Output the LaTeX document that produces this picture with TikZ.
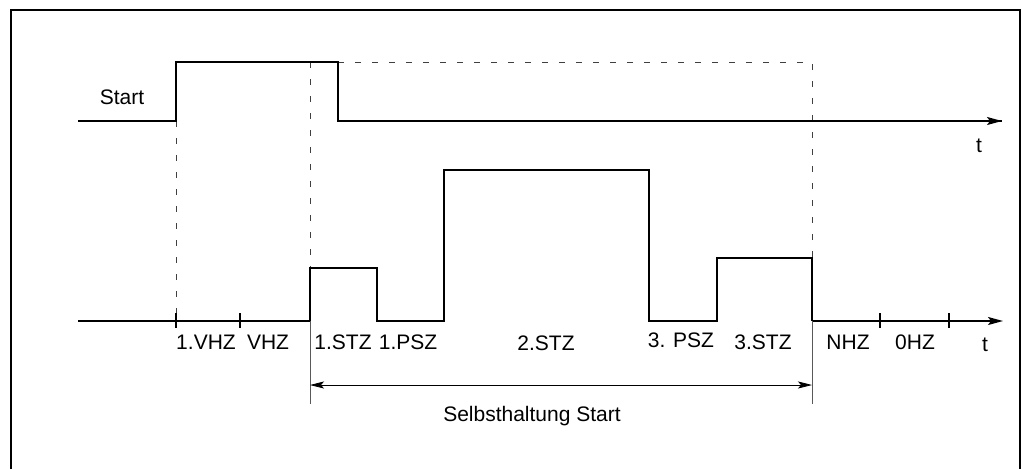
\documentclass[tikz,border=0pt]{standalone}
\usepackage{fontspec}
\setmainfont{Liberation Sans}
\usetikzlibrary{arrows.meta}
\begin{document}
\begin{tikzpicture}[x=1pt,y=-1pt,
  sig/.style={line width=1.6pt, line join=miter},
  dsh/.style={line width=0.9pt, draw=black!75, dash pattern=on 6pt off 11pt},
  thin/.style={line width=0.9pt, draw=black!65},
  lbl/.style={font=\fontsize{21}{23}\selectfont, inner sep=0pt},
  axarrow/.style={-{Stealth[length=15pt,width=8pt,inset=3pt]}},
  dimarrow/.style={{Stealth[length=14pt,width=7pt,inset=3pt]}-{Stealth[length=14pt,width=7pt,inset=3pt]}, line width=0.8pt}
]
\useasboundingbox (0,0) rectangle (1022,469);
% frame
\draw[line width=2pt] (11,469) -- (11,10) -- (1020,10) -- (1020,469);

% top signal coordinates
\coordinate (a0) at (78,121);
\coordinate (a1) at (176,121);
\coordinate (a2) at (176,62);
\coordinate (a3) at (338,62);
\coordinate (a4) at (338,121);
\coordinate (aend) at (1002,121);

% bottom signal coordinates
\coordinate (b0) at (78,321);
\coordinate (b1) at (310,321);
\coordinate (b2) at (310,268);
\coordinate (b3) at (377,268);
\coordinate (b4) at (377,321);
\coordinate (b5) at (444,321);
\coordinate (b6) at (444,170);
\coordinate (b7) at (649,170);
\coordinate (b8) at (649,321);
\coordinate (b9) at (717,321);
\coordinate (b10) at (717,258);
\coordinate (b11) at (812,258);
\coordinate (b12) at (812,321);
\coordinate (bend) at (1003,321);

% dashed reference lines
\coordinate (d1) at (176,321);
\coordinate (d2) at (310,62);
\coordinate (d3) at (812,62);
\draw[dsh] (a1) -- (d1);
\draw[dsh] (d2) -- (b2);
\draw[dsh] (a3) -- (d3) -- (b11);

% signals
\draw[sig] (a0) -- (a1) -- (a2) -- (a3) -- (a4) -- (aend);
\draw[sig, axarrow] (a4) -- (aend);
\draw[sig] (b0) -- (b1) -- (b2) -- (b3) -- (b4) -- (b5) -- (b6) -- (b7) -- (b8) -- (b9) -- (b10) -- (b11) -- (b12);
\draw[sig, axarrow] (b12) -- (bend);

% ticks
\foreach \n/\x in {t1/176, t2/240, t3/880, t4/949}{
  \coordinate (\n u) at (\x,313);
  \coordinate (\n d) at (\x,328);
  \draw[line width=1.3pt] (\n u) -- (\n d);
}

% selbsthaltung range
\coordinate (s1t) at (310,321);
\coordinate (s1b) at (310,404);
\coordinate (s2t) at (812,321);
\coordinate (s2b) at (812,404);
\coordinate (s1) at (310,385);
\coordinate (s2) at (812,385);
\draw[thin] (s1t) -- (s1b);
\draw[thin] (s2t) -- (s2b);
\draw[dimarrow] (s1) -- (s2);

% labels
\node[lbl] (start) at (122,97) {Start};
\node[lbl] (ttop) at (979,146) {t};
\node[lbl] (l1) at (206,342) {1.VHZ};
\node[lbl] (l2) at (268,342) {VHZ};
\node[lbl] (l3) at (343,342) {1.STZ};
\node[lbl] (l4) at (408,342) {1.PSZ};
\node[lbl] (l5) at (546,343) {2.STZ};
\node[lbl] (l6) at (681,340) {3. PSZ};
\node[lbl] (l7) at (763,342) {3.STZ};
\node[lbl] (l8) at (848,342) {NHZ};
\node[lbl] (l9) at (915,342) {0HZ};
\node[lbl] (tbot) at (985,345) {t};
\node[lbl] (sel) at (532,416) {Selbsthaltung Start};
\end{tikzpicture}
\end{document}
